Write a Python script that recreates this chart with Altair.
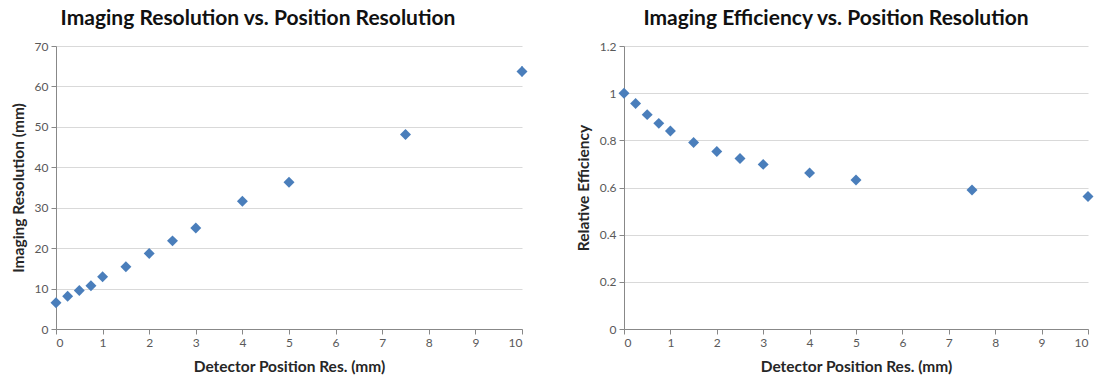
import altair as alt
import pandas as pd

# Data
pos_res = [0, 0.25, 0.5, 0.75, 1, 1.5, 2, 2.5, 3, 4, 5, 7.5, 10]
img_res = [6.5, 8.1, 9.5, 10.7, 12.9, 15.4, 18.7, 21.8, 25.0, 31.6, 36.3, 48.1, 63.7]
img_err = [0.3, 0.3, 0.3, 0.4, 0.4, 0.4, 0.5, 0.5, 0.5, 0.7, 0.7, 1.0, 1.2]
rel_eff = [1.0, 0.956, 0.909, 0.872, 0.84, 0.791, 0.753, 0.723, 0.698, 0.662, 0.632, 0.589, 0.562]

x_ticks = list(range(0, 11))
y1_ticks = list(range(0, 71, 10))
y2_ticks = [0, 0.2, 0.4, 0.6, 0.8, 1.0, 1.2]

df1 = pd.DataFrame({
    "x": pos_res,
    "y": img_res,
    "lo": [v - e for v, e in zip(img_res, img_err)],
    "hi": [v + e for v, e in zip(img_res, img_err)],
})
df2 = pd.DataFrame({"x": pos_res, "y": rel_eff})

FONT = "Lato"
BLUE = "#4A7EBB"

xaxis = alt.Axis(values=x_ticks, title="Detector Position Res. (mm)", grid=False,
                 titlePadding=11)


def yaxis(vals, title, fmt):
    return alt.Axis(values=vals, title=title, grid=True, format=fmt, titlePadding=8)


x_enc = alt.X("x:Q", scale=alt.Scale(domain=[0, 10], nice=False, zero=False), axis=xaxis)

left_pts = alt.Chart(df1).mark_point(shape="diamond", filled=True, size=120, color=BLUE, opacity=1).encode(
    x=x_enc,
    y=alt.Y("y:Q", scale=alt.Scale(domain=[0, 70], nice=False),
            axis=yaxis(y1_ticks, "Imaging Resolution (mm)", "d")),
)
left_err = alt.Chart(df1).mark_rule(color=BLUE, strokeWidth=2).encode(
    x=alt.X("x:Q"), y=alt.Y("lo:Q"), y2="hi:Q"
)
left = alt.layer(left_err, left_pts).properties(
    width=466, height=283,
    title=alt.TitleParams("Imaging Resolution vs. Position Resolution", dx=-31),
)

right = alt.Chart(df2).mark_point(shape="diamond", filled=True, size=120, color=BLUE, opacity=1).encode(
    x=x_enc,
    y=alt.Y("y:Q", scale=alt.Scale(domain=[0, 1.2], nice=False),
            axis=yaxis(y2_ticks, "Relative Efficiency", "~g")),
).properties(
    width=464, height=283,
    title=alt.TitleParams("Imaging Efficiency vs. Position Resolution", dx=-20),
)

chart = alt.hconcat(left, right, spacing=48).properties(
    padding={"left": 11, "top": 8, "right": 3, "bottom": 5},
    background="white",
).configure_view(stroke=None).configure_axis(
    labelFont=FONT, labelFontSize=12, labelColor="#595959",
    titleFont=FONT, titleFontSize=15.5, titleFontWeight="bold", titleColor="#262626",
    domainColor="#888888", tickColor="#888888", gridColor="#d9d9d9",
    tickSize=5, labelPadding=3,
).configure_title(
    font=FONT, fontSize=21, fontWeight="bold", color="#111111", anchor="middle", offset=11,
)

chart.save("out.html", embed_options={"renderer": "svg", "actions": False})
